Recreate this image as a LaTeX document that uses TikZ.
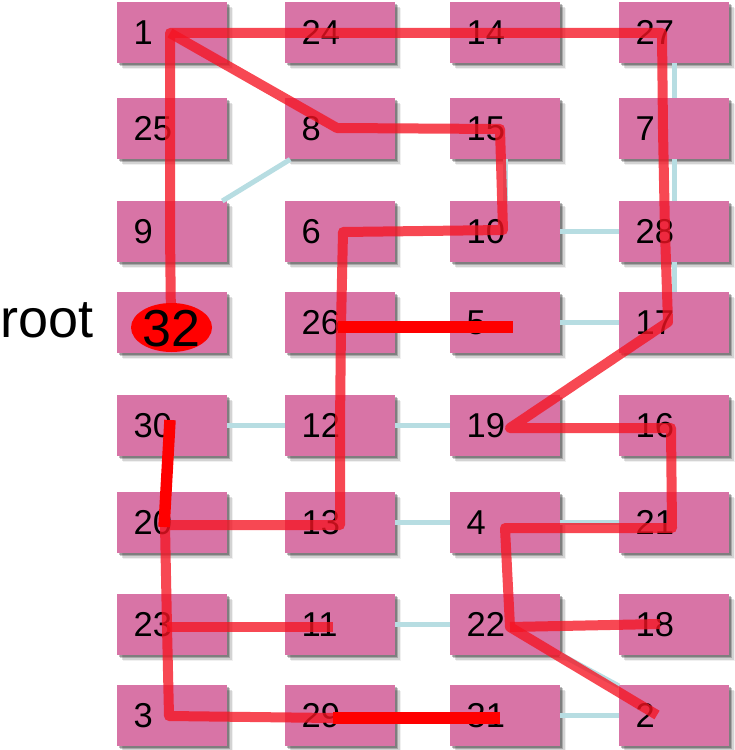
\documentclass[tikz,border=0pt]{standalone}
\usepackage{fontspec}
\setmainfont{Liberation Sans}
\usetikzlibrary{shadows,shapes.geometric}
\definecolor{boxpink}{RGB}{216,116,166}
\definecolor{edgeblue}{RGB}{183,221,226}
\definecolor{treered}{RGB}{245,20,35}
\begin{document}
\begin{tikzpicture}[x=1bp,y=-1bp,
  cell/.style={fill=boxpink, anchor=north west, minimum width=110bp, minimum height=61bp,
    inner xsep=16.5bp, inner ysep=0pt, text width=77bp, align=left,
    font=\fontsize{34.5bp}{40bp}\selectfont,
    drop shadow={shadow xshift=1.5bp, shadow yshift=-1.5bp, opacity=.25, fill=black},
    drop shadow={shadow xshift=3bp, shadow yshift=-3bp, opacity=.2, fill=black},
    drop shadow={shadow xshift=4.5bp, shadow yshift=-4.5bp, opacity=.12, fill=black},
    drop shadow={shadow xshift=6bp, shadow yshift=-6bp, opacity=.06, fill=black}},
  blueedge/.style={draw=edgeblue, line width=5bp},
  tree/.style={draw=treered, draw opacity=.78, line width=10bp, line join=round, line cap=butt},
  newedge/.style={draw=red, line width=11.5bp, line cap=butt}]
\useasboundingbox (0,0) rectangle (735,750);

% boxes
\node[cell] (n1)  at (117,2) {1};
\node[cell] (n24) at (285,2) {24};
\node[cell] (n14) at (450,2) {14};
\node[cell] (n27) at (619,2) {27};
\node[cell] (n25) at (117,98) {25};
\node[cell] (n8)  at (285,98) {8};
\node[cell] (n15) at (450,98) {15};
\node[cell] (n7)  at (619,98) {7};
\node[cell] (n9)  at (117,201) {9};
\node[cell] (n6)  at (285,201) {6};
\node[cell] (n10) at (450,201) {10};
\node[cell] (n28) at (619,201) {28};
\node[cell] (n32) at (117,292) {};
\node[cell] (n26) at (285,292) {26};
\node[cell] (n5)  at (450,292) {5};
\node[cell] (n17) at (619,292) {17};
\node[cell] (n30) at (117,395) {30};
\node[cell] (n12) at (285,395) {12};
\node[cell] (n19) at (450,395) {19};
\node[cell] (n16) at (619,395) {16};
\node[cell] (n20) at (117,492) {20};
\node[cell] (n13) at (285,492) {13};
\node[cell] (n4)  at (450,492) {4};
\node[cell] (n21) at (619,492) {21};
\node[cell] (n23) at (117,594) {23};
\node[cell] (n11) at (285,594) {11};
\node[cell] (n22) at (450,594) {22};
\node[cell] (n18) at (619,594) {18};
\node[cell] (n3)  at (117,685) {3};
\node[cell] (n29) at (285,685) {29};
\node[cell] (n31) at (450,685) {31};
\node[cell] (n2)  at (619,685) {2};

\node[anchor=base west, inner sep=0pt, font=\fontsize{54bp}{60bp}\selectfont] (root) at (0,337) {root};

% graph edges (light blue)
\draw[blueedge] (n9) -- (n8);
\draw[blueedge] (n27) -- (n7);
\draw[blueedge] (n7) -- (n28);
\draw[blueedge] (n28) -- (n17);
\draw[blueedge] (n15) -- (n10);
\draw[blueedge] (n10) -- (n28);
\draw[blueedge] (n5) -- (n17);
\draw[blueedge] (n30) -- (n12);
\draw[blueedge] (n12) -- (n19);
\draw[blueedge] (n13) -- (n4);
\draw[blueedge] (n4) -- (n21);
\draw[blueedge] (n11) -- (n22);
\draw[blueedge] (n22) -- (n2);
\draw[blueedge] (n31) -- (n2);

% tree points
\coordinate (p1) at (170,33);
\coordinate (p24) at (340,33);
\coordinate (p14) at (505,33);
\coordinate (p27) at (662,33);
\coordinate (p7) at (663,130);
\coordinate (p28) at (665,232);
\coordinate (p17) at (668,322);
\coordinate (p19) at (510,428);
\coordinate (p16) at (671,428);
\coordinate (p21) at (672,528);
\coordinate (p4) at (505,528);
\coordinate (p22) at (510,627);
\coordinate (p2) at (657,715);
\coordinate (p18) at (660,624);
\coordinate (p8) at (337,128);
\coordinate (p15) at (500,129);
\coordinate (p10) at (503,230);
\coordinate (p6) at (343,232);
\coordinate (p26) at (341,325);
\coordinate (p12) at (340,425);
\coordinate (p13) at (340,525);
\coordinate (p20) at (165,525);
\coordinate (p23) at (167,627);
\coordinate (p3) at (169,716);
\coordinate (p29) at (333,718);
\coordinate (p11) at (333,627);
\coordinate (p32) at (171,322);
\coordinate (p25) at (170,130);
\coordinate (p9) at (170,232);
\coordinate (q26) at (338,327);
\coordinate (q5) at (513,327);
\coordinate (q30) at (170,420);
\coordinate (q20) at (164,527);
\coordinate (q31) at (500,718);

% tree edges
\draw[tree] (p32) -- (p9) -- (p25) -- (p1) -- (p24) -- (p14) -- (p27) -- (p7) -- (p28) -- (p17) -- (p19) -- (p16) -- (p21) -- (p4) -- (p22) -- (p2);
\draw[tree] (p22) -- (p18);
\draw[tree] (p1) -- (p8) -- (p15) -- (p10) -- (p6) -- (p26) -- (p12) -- (p13) -- (p20) -- (p23) -- (p3) -- (p29);
\draw[tree] (p23) -- (p11);
\draw[newedge] (q26) -- (q5);
\draw[newedge] (q30) -- (q20);
\draw[newedge] (p29) -- (q31);

% root marker
\node[ellipse, fill=red, minimum width=81bp, minimum height=49bp, inner sep=0pt] (e32) at (171.5,327.5) {};
\node[inner sep=0pt, font=\fontsize{52bp}{60bp}\selectfont] (t32) at (171.5,328.5) {32};
\end{tikzpicture}
\end{document}
